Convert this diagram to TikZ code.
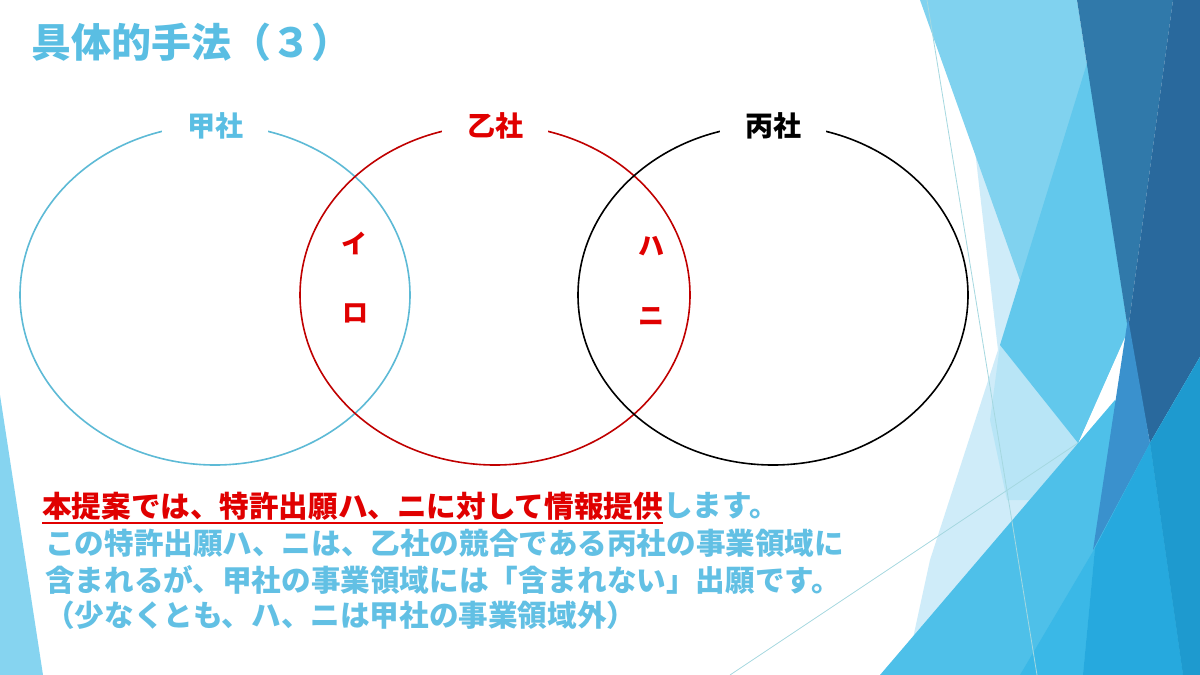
\documentclass[tikz,border=0pt]{standalone}
\usepackage{fontspec}
\newfontfamily\jp{Noto Sans CJK JP}
\definecolor{ttlblue}{HTML}{5ABEE3}
\definecolor{txtblue}{HTML}{62C0E4}
\definecolor{txtred}{HTML}{E00000}
\definecolor{cblue}{HTML}{5DBAD6}
\definecolor{cred}{HTML}{C00000}
\definecolor{fVL}{HTML}{CFECF9}
\definecolor{fL2}{HTML}{B8E5F6}
\definecolor{fLight}{HTML}{80D2EF}
\definecolor{fMid}{HTML}{62C8EC}
\definecolor{fSteel}{HTML}{3079AA}
\definecolor{fDark}{HTML}{29699D}
\definecolor{fMed}{HTML}{3A91CD}
\definecolor{fBright}{HTML}{4EC0E9}
\definecolor{fBright3}{HTML}{3AB8E7}
\definecolor{fBright2}{HTML}{26A9DE}
\definecolor{fDeep}{HTML}{1E9ACF}
\definecolor{fLine}{HTML}{A5D8E0}
\tikzset{
  venn/.style={line width=1.6pt},
  clabel/.style={fill=white, minimum width=106pt, inner ysep=2pt, font=\jp\bfseries\fontsize{28}{32}\selectfont},
  kana/.style={font=\jp\bfseries\fontsize{26}{30}\selectfont, text=txtred, inner sep=0pt},
  body/.style={font=\jp\bfseries\fontsize{29.6}{36}\selectfont, inner sep=0pt, anchor=west},
  thinline/.style={draw=fLine, line width=0.8pt}
}
\begin{document}
\begin{tikzpicture}[x=1pt,y=-1pt]
\useasboundingbox (0,0) rectangle (1200,675);
\fill[white] (0,0) rectangle (1200,675);
% ---- background facets ----
\fill[fVL] (975,150) -- (1080,445) -- (905,675) -- (930,560) -- (998,350) -- cycle;
\fill[fL2] (1000,345) -- (1078,443) -- (1030,500) -- (1007,500) -- (990,420) -- cycle;
\fill[fLight] (920,0) -- (1077,0) -- (1128,330) -- (1078,443) -- cycle;
\fill[fMid] (1088,60) -- (1128,330) -- (1078,443) -- (1000,345) -- cycle;
\fill[fSteel] (1077,0) -- (1173,0) -- (1128,330) -- cycle;
\fill[fDark] (1173,0) -- (1200,0) -- (1200,357) -- (1150,443) -- (1128,330) -- cycle;
\coordinate (l2a) at (730,675);
\coordinate (l2b) at (1078,443);
\draw[thinline] (l2a) -- (l2b);
\fill[fBright] (880,675) -- (1115,400) -- (1150,443) -- (1200,357) -- (1200,675) -- cycle;
\fill[fMed] (1128,318) -- (1150,443) -- (1093,550) -- cycle;
\fill[fBright3] (1020,675) -- (1095,548) -- (1083,675) -- cycle;
\fill[fBright2] (1083,675) -- (1095,548) -- (1150,443) -- (1183,675) -- cycle;
\fill[fDeep] (1150,443) -- (1200,357) -- (1200,675) -- (1183,675) -- cycle;
\coordinate (l1a) at (927,0);
\coordinate (l1b) at (1037,675);
\draw[thinline] (l1a) -- (l1b);
\fill[fLight!95!white] (0,395) -- (43,675) -- (0,675) -- cycle;
% ---- title ----
\node[anchor=west, inner sep=0pt, text=ttlblue, font=\jp\bfseries\fontsize{40}{44}\selectfont] (title) at (31,42) {具体的手法（３）};
% ---- Venn ellipses ----
\draw[venn, cblue] (215,295) ellipse [x radius=195, y radius=170];
\draw[venn, cred] (495,295) ellipse [x radius=195, y radius=170];
\draw[venn, black] (773,295) ellipse [x radius=195, y radius=170];
\node[clabel, text=ttlblue] (kou) at (215,126) {甲社};
\node[clabel, text=txtred] (otsu) at (495,126) {乙社};
\node[clabel, text=black] (hei) at (773,126) {丙社};
\node[kana] (i) at (354,243) {イ};
\node[kana] (ro) at (355,313) {ロ};
\node[kana] (ha) at (651,246) {ハ};
\node[kana] (ni) at (651,316) {ニ};
% ---- body text ----
\node[body, text=txtred] (l1r) at (42,506) {本提案では、特許出願ハ、ニに対して情報提供};
\node[body, text=txtblue, anchor=west] (l1b) at (l1r.east) {します。};
\draw[txtred, line width=2pt] ([yshift=-3pt]l1r.south west) -- ([yshift=-3pt]l1r.south east);
\node[body, text=txtblue] (l2) at (45,543) {この特許出願ハ、ニは、乙社の競合である丙社の事業領域に};
\node[body, text=txtblue] (l3) at (45,580) {含まれるが、甲社の事業領域には「含まれない」出願です。};
\node[body, text=txtblue] (l4) at (45,615) {（少なくとも、ハ、ニは甲社の事業領域外）};
\end{tikzpicture}
\end{document}
